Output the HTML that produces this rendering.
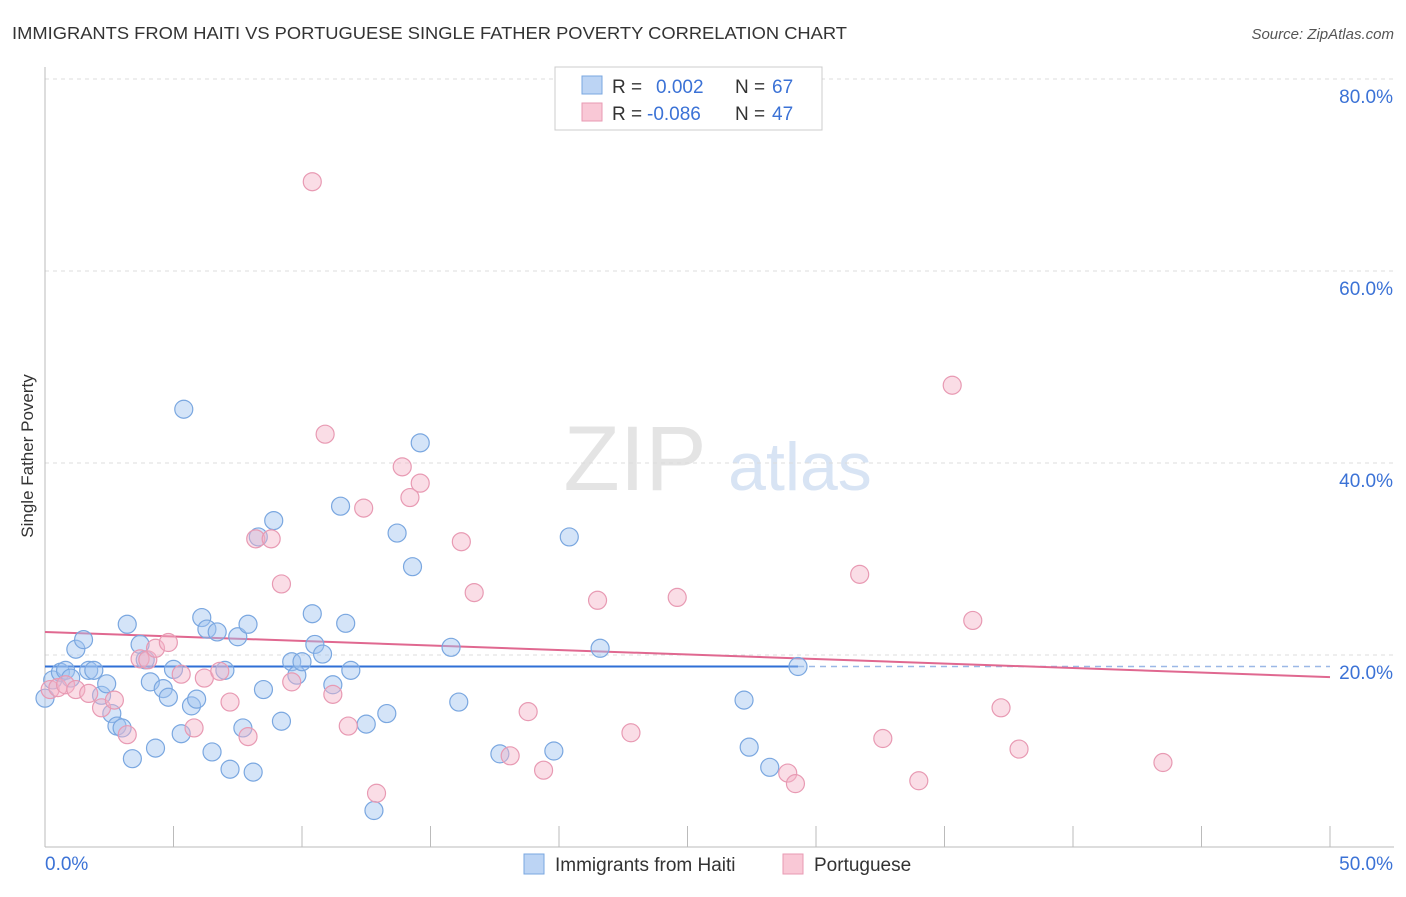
<!DOCTYPE html>
<html><head><meta charset="utf-8"><style>
body{margin:0;background:#fff;font-family:"Liberation Sans",sans-serif;}
svg text{font-family:"Liberation Sans",sans-serif;}
</style></head><body>
<svg id="chart" width="1406" height="892" xmlns="http://www.w3.org/2000/svg">
<text x="12" y="39" font-size="17.5" fill="#333" textLength="835" lengthAdjust="spacingAndGlyphs">IMMIGRANTS FROM HAITI VS PORTUGUESE SINGLE FATHER POVERTY CORRELATION CHART</text>
<text x="1394" y="39" font-size="15" fill="#555" font-style="italic" text-anchor="end">Source: ZipAtlas.com</text>
<text x="33" y="456" font-size="17" fill="#333" text-anchor="middle" transform="rotate(-90 33 456)">Single Father Poverty</text>
<g><text x="635" y="490" font-size="92" fill="#e4e4e4" font-family="Liberation Serif" text-anchor="middle">ZIP</text><text x="800" y="490" font-size="68" fill="#d8e4f4" text-anchor="middle">atlas</text></g>
<g id="grid"></g><g id="axes"></g><g id="trends"></g><g id="pts"></g>
<g>
<rect x="555" y="67" width="267" height="63" fill="#fff" stroke="#ccc"/>
<rect x="582" y="76" width="20" height="18" fill="#bcd4f4" stroke="#7aa7e0"/>
<rect x="582" y="103" width="20" height="18" fill="#f9c8d6" stroke="#e89ab3"/>
<text x="612" y="93" font-size="19" fill="#333">R = </text><text x="656" y="93" font-size="19" fill="#3b72d6">0.002</text>
<text x="735" y="93" font-size="19" fill="#333">N = </text><text x="772" y="93" font-size="19" fill="#3b72d6">67</text>
<text x="612" y="120" font-size="19" fill="#333">R = </text><text x="647" y="120" font-size="19" fill="#3b72d6">-0.086</text>
<text x="735" y="120" font-size="19" fill="#333">N = </text><text x="772" y="120" font-size="19" fill="#3b72d6">47</text>
</g>
<g>
<rect x="524" y="854" width="20" height="20" fill="#bcd4f4" stroke="#7aa7e0"/>
<text x="555" y="871" font-size="19" fill="#333">Immigrants from Haiti</text>
<rect x="783" y="854" width="20" height="20" fill="#f9c8d6" stroke="#e89ab3"/>
<text x="814" y="871" font-size="19" fill="#333">Portuguese</text>
</g>
</svg>
<script>
const xTicks=[0,5,10,15,20,25,30,35,40,45,50];
const yTicks=[20,40,60,80];
const haitiX=[0.0,0.3,0.6,0.8,1.0,1.2,1.5,1.7,1.9,2.2,2.4,2.6,2.8,3.0,3.2,3.4,3.7,3.9,4.1,4.3,4.6,4.8,5.0,5.3,5.4,5.7,5.9,6.1,6.3,6.5,6.7,7.0,7.2,7.5,7.7,7.9,8.1,8.3,8.5,8.9,9.2,9.6,9.8,10.0,10.4,10.5,10.8,11.2,11.5,11.7,11.9,12.5,12.8,13.3,13.7,14.3,14.6,15.8,16.1,17.7,19.8,20.4,21.6,27.2,27.4,28.2,29.3];
const haitiY=[15.5,17.4,18.2,18.4,17.6,20.6,21.6,18.4,18.4,15.8,17.0,13.9,12.6,12.4,23.2,9.2,21.1,19.5,17.2,10.3,16.5,15.6,18.5,11.8,45.6,14.7,15.4,23.9,22.7,9.9,22.4,18.4,8.1,21.9,12.4,23.2,7.8,32.3,16.4,34.0,13.1,19.3,17.9,19.3,24.3,21.1,20.1,16.9,35.5,23.3,18.4,12.8,3.8,13.9,32.7,29.2,42.1,20.8,15.1,9.7,10.0,32.3,20.7,15.3,10.4,8.3,18.8];
const portX=[0.2,0.5,0.8,1.2,1.7,2.2,2.7,3.2,3.7,4.0,4.3,4.8,5.3,5.8,6.2,6.8,7.2,7.9,8.2,8.8,9.2,9.6,10.4,10.9,11.2,11.8,12.4,12.9,13.9,14.2,14.6,16.2,16.7,18.1,18.8,19.4,21.5,22.8,24.6,28.9,29.2,31.7,32.6,34.0,35.3,36.1,37.2,37.9,43.5];
const portY=[16.4,16.6,16.9,16.4,16.0,14.5,15.3,11.7,19.6,19.5,20.7,21.3,18.0,12.4,17.6,18.3,15.1,11.5,32.1,32.1,27.4,17.2,69.3,43.0,15.9,12.6,35.3,5.6,39.6,36.4,37.9,31.8,26.5,9.5,14.1,8.0,25.7,11.9,26.0,7.7,6.6,28.4,11.3,6.9,48.1,23.6,14.5,10.2,8.8];
const haitiTrend=[18.8,18.8];
const portTrend=[22.4,17.7];
const NS="http://www.w3.org/2000/svg";
const X=v=>45+v*25.7, Y=v=>847-v*9.6;
function mk(p,t,a){const e=document.createElementNS(NS,t);for(const k in a)e.setAttribute(k,a[k]);document.getElementById(p).appendChild(e);return e;}
for(const t of yTicks){
 const l=mk('grid','line',{x1:45,x2:1394,y1:Y(t),y2:Y(t),stroke:'#ddd','stroke-dasharray':'4,4'});
 
 
 const tx=mk('axes','text',{x:1393,y:Y(t)+24,'font-size':19,fill:'#3b72d6','text-anchor':'end'});tx.textContent=t.toFixed(1)+'%';
 
 
}
mk('axes','line',{x1:45,x2:45,y1:67,y2:847,stroke:'#bbb'});
mk('axes','line',{x1:45,x2:1394,y1:847,y2:847,stroke:'#bbb'});
for(const t of xTicks){
 const l=mk('axes','line',{x1:X(t),x2:X(t),y1:826,y2:847,stroke:'#bbb'});
 
 
}
const xl0=mk('axes','text',{x:45,y:870,'font-size':19,fill:'#3b72d6','text-anchor':'start'});xl0.textContent=xTicks[0].toFixed(1)+'%';


const xl1=mk('axes','text',{x:1393,y:870,'font-size':19,fill:'#3b72d6','text-anchor':'end'});xl1.textContent=xTicks[xTicks.length-1].toFixed(1)+'%';


function dot(x,y,f,s,n){const c=mk('pts','circle',{cx:X(x),cy:Y(y),r:9,fill:f,stroke:s,'stroke-width':1.2});
 
 }
haitiX.forEach((x,i)=>dot(x,haitiY[i],'rgba(160,195,240,0.45)','#7aa7e0','haiti-point'));
portX.forEach((x,i)=>dot(x,portY[i],'rgba(245,180,200,0.45)','#e89ab3','portuguese-point'));
const hmax=Math.max(...haitiX);
const t1=mk('trends','line',{x1:X(0),x2:X(hmax),y1:Y(haitiTrend[0]),y2:Y(haitiTrend[0]+(haitiTrend[1]-haitiTrend[0])*hmax/50),stroke:'#2f6fd6','stroke-width':2});


const t1d=mk('trends','line',{x1:X(hmax),x2:X(50),y1:Y(haitiTrend[0]),y2:Y(haitiTrend[1]),stroke:'#9bb8e6','stroke-width':1.5,'stroke-dasharray':'6,5'});


const t2=mk('trends','line',{x1:X(0),x2:X(50),y1:Y(portTrend[0]),y2:Y(portTrend[1]),stroke:'#e06890','stroke-width':2});


</script>
</body></html>
